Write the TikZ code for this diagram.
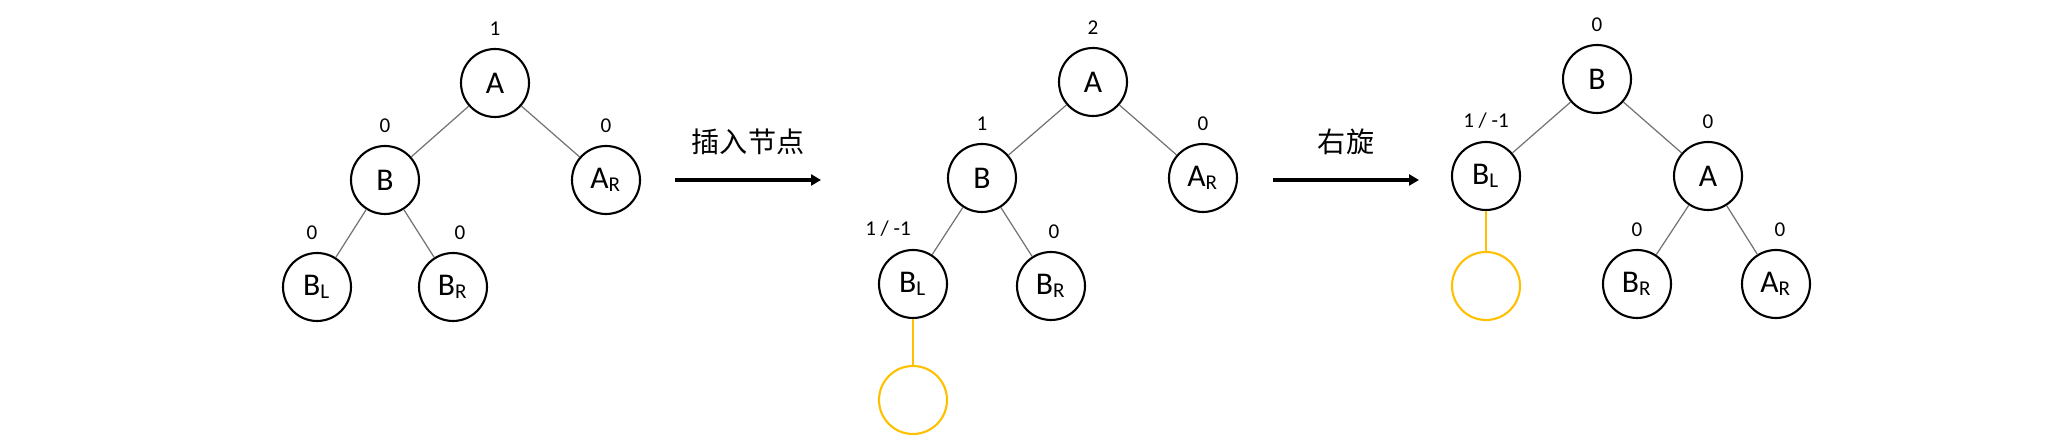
\documentclass[tikz,border=0pt]{standalone}
\usepackage{fontspec}
\setmainfont{Carlito}
\newfontfamily\cjk{Noto Sans CJK SC}
\usetikzlibrary{arrows.meta}
\definecolor{gold}{RGB}{255,192,0}
\tikzset{
  tnode/.style={circle,draw,line width=0.6pt,minimum size=0.68cm,inner sep=0pt,font=\fontsize{9}{10}\selectfont},
  newnode/.style={tnode,draw=gold},
  bf/.style={font=\fontsize{6}{7}\selectfont,inner sep=0pt},
  tedge/.style={draw=black!55,line width=0.35pt},
  newedge/.style={draw=gold,line width=0.5pt},
  step arrow/.style={line width=1pt,-{Triangle[length=0.1cm,width=0.11cm]}},
  cjklabel/.style={font=\cjk\fontsize{8}{9}\selectfont},
  every label/.style={bf},
  label distance=0.12cm
}
\begin{document}
\begin{tikzpicture}
  \useasboundingbox (0,0) rectangle (20.58,4.45);
  % before insertion
  \node[tnode,label=above:1] (a1) at (4.95,3.62) {A};
  \node[tnode,label=above:0] (b1) at (3.85,2.65) {B};
  \node[tnode,label=above:0] (ar1) at (6.06,2.65) {A\textsubscript{R}};
  \node[tnode,label={[xshift=-0.05cm]above:0}] (bl1) at (3.17,1.58) {B\textsubscript{L}};
  \node[tnode,label={[xshift=0.07cm]above:0}] (br1) at (4.53,1.58) {B\textsubscript{R}};
  \draw[tedge] (a1)--(b1) (a1)--(ar1) (b1)--(bl1) (b1)--(br1);
  % insert
  \coordinate (s1) at (6.75,2.65);
  \coordinate (e1) at (8.21,2.65);
  \draw[step arrow] (s1)--(e1) node[midway,above=0.12cm,cjklabel]{插入节点};
  \node[tnode,label=above:2] (a2) at (10.93,3.63) {A};
  \node[tnode,label=above:1] (b2) at (9.82,2.67) {B};
  \node[tnode,label=above:0] (ar2) at (12.03,2.67) {A\textsubscript{R}};
  \node[tnode,label={[xshift=-0.25cm]above:1 / -1}] (bl2) at (9.13,1.61) {B\textsubscript{L}};
  \node[tnode,label={[xshift=0.03cm]above:0}] (br2) at (10.51,1.59) {B\textsubscript{R}};
  \node[newnode] (n2) at (9.13,0.45) {};
  \draw[tedge] (a2)--(b2) (a2)--(ar2) (b2)--(bl2) (b2)--(br2);
  \draw[newedge] (bl2)--(n2);
  % right rotation
  \coordinate (s2) at (12.73,2.65);
  \coordinate (e2) at (14.19,2.65);
  \draw[step arrow] (s2)--(e2) node[midway,above=0.12cm,cjklabel]{右旋};
  \node[tnode,label=above:0] (b3) at (15.97,3.66) {B};
  \node[tnode,label=above:1 / -1] (bl3) at (14.86,2.69) {B\textsubscript{L}};
  \node[tnode,label=above:0] (a3) at (17.08,2.69) {A};
  \node[newnode] (n3) at (14.86,1.59) {};
  \node[tnode,label=above:0] (br3) at (16.37,1.61) {B\textsubscript{R}};
  \node[tnode,label={[xshift=0.04cm]above:0}] (ar3) at (17.76,1.61) {A\textsubscript{R}};
  \draw[tedge] (b3)--(bl3) (b3)--(a3) (a3)--(br3) (a3)--(ar3);
  \draw[newedge] (bl3)--(n3);
\end{tikzpicture}
\end{document}
